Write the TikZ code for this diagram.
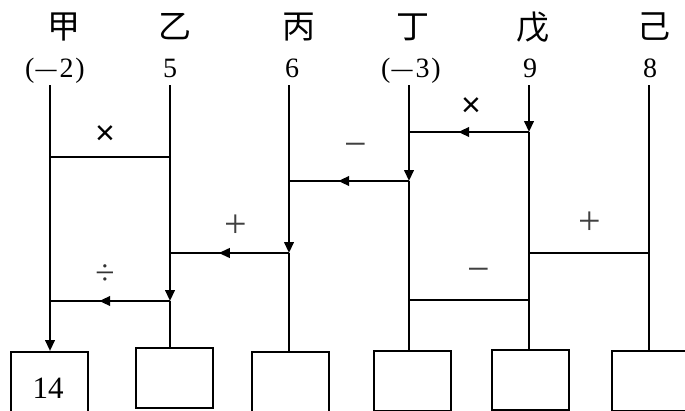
\documentclass[tikz,border=0pt]{standalone}
\usepackage{fontspec}
\usepackage{graphicx}
\setmainfont{Liberation Serif}
\newfontfamily\cjk{Noto Sans CJK SC}
\newfontfamily\opsans{Liberation Sans}
\usetikzlibrary{arrows.meta,decorations.markings}
\newcommand{\longminus}{\scalebox{0.75}[1]{—}}
\begin{document}
\begin{tikzpicture}[x=1pt,y=-1pt,
  wire/.style={line width=2.3pt},
  tipend/.style={-{Triangle[length=11pt,width=9.5pt]}},
  midarrow/.style={postaction={decorate},decoration={markings,mark=at position 0.59 with {\arrow{Triangle[length=11pt,width=9.5pt]}}}},
  ansbox/.style={draw,line width=1.5pt,minimum width=77pt,minimum height=60pt,inner sep=0pt,anchor=north west},
  cname/.style={font=\cjk\fontsize{33}{33}\selectfont,inner sep=0pt},
  val/.style={font=\fontsize{28}{28}\selectfont,anchor=base,inner sep=0pt},
  opr/.style={font=\fontsize{40}{40}\selectfont,text=black!75,inner sep=0pt},
  opdiv/.style={font=\fontsize{35}{35}\selectfont,text=black!80,inner sep=0pt},
  opx/.style={font=\opsans\fontsize{34}{34}\selectfont,inner sep=0pt},
]
\useasboundingbox (0,0) rectangle (685,410);

% answer boxes
\node[ansbox] (b1) at (10,351) {};
\node[ansbox] (b2) at (135,347) {};
\node[ansbox] (b3) at (251,351) {};
\node[ansbox] (b4) at (373,350) {};
\node[ansbox] (b5) at (491,349) {};
\node[ansbox] (b6) at (611,350) {};
\node[font=\fontsize{31}{31}\selectfont,anchor=base,inner sep=0pt] (r1) at (48,398) {14};

% coordinates
\coordinate (jt) at (50,85);  \coordinate (jj) at (50,157); \coordinate (jd) at (50,301); \coordinate (jb) at (50,351);
\coordinate (yt) at (170,85); \coordinate (yj) at (170,157); \coordinate (yp) at (170,253); \coordinate (yd) at (170,301); \coordinate (yb) at (170,347);
\coordinate (bt) at (289,85); \coordinate (bm) at (289,181); \coordinate (bp) at (289,253); \coordinate (bb) at (289,351);
\coordinate (dt) at (409,85); \coordinate (dx) at (409,132); \coordinate (dm) at (409,181); \coordinate (dd) at (409,300); \coordinate (db) at (409,350);
\coordinate (wt) at (529,85); \coordinate (wx) at (529,132); \coordinate (wp) at (529,253); \coordinate (wd) at (529,300); \coordinate (wb) at (529,349);
\coordinate (kt) at (649,85); \coordinate (kp) at (649,253); \coordinate (kb) at (649,350);

% vertical lines
\draw[wire,tipend] (jt) -- (jb);
\draw[wire,tipend] (yt) -- (yd); \draw[wire] (yd) -- (yb);
\draw[wire,tipend] (bt) -- (bp); \draw[wire] (bp) -- (bb);
\draw[wire,tipend] (dt) -- (dm); \draw[wire] (dm) -- (db);
\draw[wire,tipend] (wt) -- (wx); \draw[wire] (wx) -- (wb);
\draw[wire] (kt) -- (kb);

% horizontal lines
\draw[wire] (jj) -- (yj);
\draw[wire,midarrow] (wx) -- (dx);
\draw[wire,midarrow] (dm) -- (bm);
\draw[wire,midarrow] (bp) -- (yp);
\draw[wire,midarrow] (yd) -- (jd);
\draw[wire] (wp) -- (kp);
\draw[wire] (dd) -- (wd);

% names
\node[cname] (nA) at (64,27) {甲};
\node[cname] (nB) at (175,27) {乙};
\node[cname] (nC) at (299,27) {丙};
\node[cname] (nD) at (413,27) {丁};
\node[cname] (nE) at (533,27) {戊};
\node[cname] (nF) at (654,27) {己};

% values
\node[val] (vA) at (55,77) {(\kern1pt\longminus\kern3pt2\kern2pt)};
\node[val] (vB) at (170,77) {5};
\node[val] (vC) at (292,77) {6};
\node[val] (vD) at (411,77) {(\kern1pt\longminus\kern3pt3\kern2pt)};
\node[val] (vE) at (530,77) {9};
\node[val] (vF) at (650,77) {8};

% operators
\node[opx] (o1) at (105,135) {×};
\node[opx] (o2) at (471,107) {×};
\node[opr] (o3) at (356,150) {−};
\node[opr] (o4) at (236,226) {+};
\node[opdiv] (o5) at (105,275) {÷};
\node[opr] (o6) at (590,223) {+};
\node[opr] (o7) at (479,275) {−};
\end{tikzpicture}
\end{document}
